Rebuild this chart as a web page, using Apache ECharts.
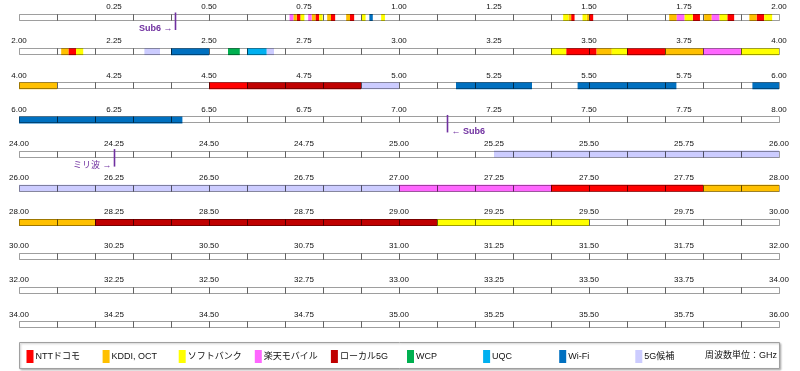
<!DOCTYPE html>
<html><head><meta charset="utf-8">
<script src="https://cdn.jsdelivr.net/npm/echarts@6/dist/echarts.min.js"></script>
<style>html,body{margin:0;padding:0;background:#fff}#c{width:800px;height:371px}</style>
</head><body><div id="c"></div>
<script>
// ---- data ----
const rowStarts = [0, 2, 4, 6, 24, 26, 28, 30, 32, 34];
const rowSpan = 2;
const tickStep = 0.25;
const cellStep = 0.1;
const operators = ['NTTドコモ', 'KDDI, OCT', 'ソフトバンク', '楽天モバイル', 'ローカル5G', 'WCP', 'UQC', 'Wi-Fi', '5G候補'];
const ntt = [[0.731,0.741],[0.780,0.790],[0.821,0.832],[0.871,0.882],[1.453,1.462],[1.501,1.511],[1.773,1.792],[1.864,1.882],[1.941,1.961],[2.130,2.150],[3.44,3.52],[3.60,3.70],[4.5,4.6],[27.4,27.8]];
const kddi = [[0.722,0.731],[0.770,0.780],[0.811,0.821],[0.861,0.871],[1.446,1.453],[1.494,1.501],[1.711,1.731],[1.803,1.823],[1.922,1.941],[2.111,2.130],[3.52,3.56],[3.70,3.80],[4.0,4.1],[27.8,28.2]];
const softbank = [[0.741,0.751],[0.790,0.799],[0.902,0.912],[0.953,0.963],[1.432,1.446],[1.483,1.494],[1.751,1.773],[1.843,1.864],[1.961,1.982],[2.150,2.169],[3.40,3.44],[3.56,3.60],[3.90,4.00],[29.1,29.5]];
const rakuten = [[0.712,0.722],[0.761,0.770],[1.731,1.751],[1.823,1.843],[3.80,3.90],[27.0,27.4]];
const local5g = [[4.6,4.9],[28.2,29.1]];
const wcp = [[2.550,2.581]];
const uqc = [[2.600,2.652]];
const wifi = [[0.922,0.931],[2.400,2.500],[5.15,5.35],[5.47,5.73],[5.93,6.43]];
const candidate = [[2.330,2.371],[2.652,2.671],[4.9,5.0],[25.25,27.0]];
const markerValues = [0.41, 7.125, 24.25];
const markerLabels = ['Sub6 →', '← Sub6', 'ミリ波 →'];
const unitLabel = '周波数単位：GHz';

// ---- styles ----
const opSegments = [ntt, kddi, softbank, rakuten, local5g, wcp, uqc, wifi, candidate];
const opColors = ['#FF0000', '#FFC000', '#FFFF00', '#FF66FF', '#C00000', '#00B050', '#00B0F0', '#0070C0', '#CCCCFF'];
const purple = '#7030A0';
const FONT = '"Liberation Sans", Arial, "Noto Sans CJK JP", sans-serif';
const rowTop = i => 14 + 34.15 * i;
const barH = 7;

const grids = [], xAxes = [], yAxes = [], series = [];
rowStarts.forEach((s, i) => {
  grids.push({left: 19, right: 21, top: rowTop(i), height: barH});
  xAxes.push({
    gridIndex: i, type: 'value', min: s, max: s + rowSpan, interval: tickStep,
    position: 'top',
    axisLine: {show: false}, axisTick: {show: false}, splitLine: {show: false},
    axisLabel: {show: true, margin: 3, fontSize: 8, color: '#111', fontFamily: FONT,
      showMinLabel: i !== 0, showMaxLabel: true,
      formatter: v => v.toFixed(2)}
  });
  yAxes.push({gridIndex: i, type: 'value', min: 0, max: 1, show: false});
});

// colored segments, per operator per row (same name -> one legend item)
opSegments.forEach((segs, k) => {
  rowStarts.forEach((s, i) => {
    const data = [];
    segs.forEach(([a, b]) => {
      const lo = Math.max(a, s), hi = Math.min(b, s + rowSpan);
      if (hi > lo) data.push([lo, hi]);
    });
    series.push({
      type: 'custom', name: operators[k], xAxisIndex: i, yAxisIndex: i,
      itemStyle: {color: opColors[k]}, z: 2, silent: true,
      data: data,
      renderItem: (params, api) => {
        const p0 = api.coord([api.value(0), 1]);
        const p1 = api.coord([api.value(1), 0]);
        return {type: 'rect', shape: {x: p0[0], y: p0[1], width: p1[0] - p0[0], height: p1[1] - p0[1]},
          style: {fill: opColors[k]}};
      }
    });
  });
});

// cell outlines
rowStarts.forEach((s, i) => {
  const cells = [];
  const n = Math.round(rowSpan / cellStep);
  for (let c = 0; c < n; c++) cells.push([s + c * cellStep, s + (c + 1) * cellStep]);
  series.push({
    type: 'custom', xAxisIndex: i, yAxisIndex: i, z: 3, silent: true, data: cells,
    renderItem: (params, api) => {
      const p0 = api.coord([api.value(0), 1]);
      const p1 = api.coord([api.value(1), 0]);
      const x0 = Math.round(p0[0]) + 0.5, x1 = Math.round(p1[0]) + 0.5;
      const y0 = Math.round(p0[1]) + 0.5, y1 = Math.round(p1[1]) - 0.5;
      return {type: 'rect', shape: {x: x0, y: y0, width: x1 - x0, height: y1 - y0},
        style: {fill: null, stroke: 'rgba(0,0,0,0.38)', lineWidth: 1}};
    }
  });
});

// markers
markerValues.forEach((v, m) => {
  const i = rowStarts.findIndex(s => v >= s && v < s + rowSpan);
  const left = markerLabels[m].endsWith('→');
  const bold = markerLabels[m].indexOf('Sub6') >= 0;
  series.push({
    type: 'custom', xAxisIndex: i, yAxisIndex: i, z: 5, silent: true, data: [[v]],
    renderItem: (params, api) => {
      const p = api.coord([api.value(0), 1]);
      const x = Math.round(p[0]) + 0.5;
      return {type: 'group', children: [
        {type: 'line', shape: {x1: x, y1: p[1] - 1.5, x2: x, y2: p[1] + 16}, style: {stroke: purple, lineWidth: 1.6}},
        {type: 'text', x: left ? x - 3 : x + 4, y: p[1] + 15,
          style: {text: markerLabels[m], fill: purple, font: (bold ? 'bold ' : '') + '9px ' + FONT,
            align: left ? 'right' : 'left', verticalAlign: 'middle'}}
      ]};
    }
  });
});

// legends (one per item for fixed spacing)
const legends = operators.map((name, k) => ({
  data: [name], left: 26.5 + 76.1 * k, top: 350, padding: 0, itemWidth: 7, itemHeight: 13,
  icon: 'rect', selectedMode: false, itemGap: 0,
  textStyle: {fontSize: 9, color: '#111', fontFamily: FONT, padding: [0, 0, 0, -3]}
}));

const chart = echarts.init(document.getElementById('c'), null, {renderer: 'canvas'});
chart.setOption({
  animation: false,
  grid: grids, xAxis: xAxes, yAxis: yAxes, series: series, legend: legends,
  graphic: [
    {type: 'rect', z: -1, shape: {x: 19.5, y: 342.5, width: 760, height: 26},
      style: {fill: '#fff', stroke: '#a0a0a0', lineWidth: 1, shadowColor: 'rgba(0,0,0,0.25)', shadowBlur: 2, shadowOffsetX: 1, shadowOffsetY: 1}},
    {type: 'text', left: 705, top: 351, style: {text: unitLabel, font: '9px ' + FONT, fill: '#111'}}
  ]
});
</script></body></html>
